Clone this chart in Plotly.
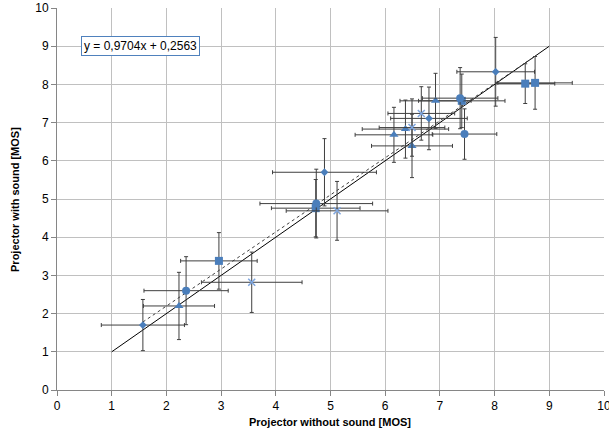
import plotly.graph_objects as go

# ---- data ----
diamond_x = [1.57, 4.89, 6.80, 8.02]
diamond_y = [1.70, 5.70, 7.11, 8.33]
diamond_ex = [0.76, 0.95, 0.70, 0.71]
diamond_ey = [0.67, 0.88, 0.82, 0.90]

square_x = [2.96, 4.73, 7.40, 8.56, 8.74]
square_y = [3.38, 4.76, 7.57, 8.02, 8.04]
square_ex = [0.70, 0.81, 0.79, 0.54, 0.68]
square_ey = [0.74, 0.75, 0.70, 0.52, 0.69]

triangle_x = [2.23, 6.92, 6.37, 6.16, 6.49]
triangle_y = [2.20, 7.57, 6.83, 6.68, 6.39]
triangle_ex = [0.65, 0.65, 0.79, 0.71, 0.74]
triangle_ey = [0.88, 0.72, 0.76, 0.72, 0.83]

circle_x = [2.36, 4.74, 7.45, 7.37]
circle_y = [2.60, 4.88, 6.70, 7.64]
circle_ex = [0.77, 1.03, 0.59, 0.69]
circle_ey = [0.89, 0.90, 0.66, 0.80]

cross_x = [3.56, 5.12, 6.66, 6.49]
cross_y = [2.82, 4.69, 7.24, 6.87]
cross_ex = [0.92, 0.93, 0.61, 0.60]
cross_ey = [0.79, 0.77, 0.70, 0.75]

ref_line_x = [1, 9]
ref_line_y = [1, 9]
trend_slope = 0.9704
trend_intercept = 0.2563
equation_text = "y = 0,9704x + 0,2563"
x_title = "Projector without sound [MOS]"
y_title = "Projector with sound [MOS]"
axis_ticks = [0, 1, 2, 3, 4, 5, 6, 7, 8, 9, 10]

BLUE = "#4A7EBB"
ERR = "#3F3F3F"
FONT = "Liberation Sans"

fig = go.Figure()

# reference line y = x
fig.add_trace(go.Scatter(x=ref_line_x, y=ref_line_y, mode="lines",
                         line=dict(color="#000000", width=1), hoverinfo="skip"))

# linear trend line (dotted) over data range
all_x = diamond_x + square_x + triangle_x + circle_x + cross_x
tx = [min(all_x), max(all_x)]
ty = [trend_slope * v + trend_intercept for v in tx]
fig.add_trace(go.Scatter(x=tx, y=ty, mode="lines",
                         line=dict(color="#404040", width=1, dash="dot"), hoverinfo="skip"))

def add_series(xs, ys, ex, ey, symbol, size, color=BLUE, line=None, errcolor=ERR):
    fig.add_trace(go.Scatter(
        x=xs, y=ys, mode="markers",
        marker=dict(symbol=symbol, size=size, color=color,
                    line=line if line else dict(width=0)),
        error_x=dict(type="data", array=ex, color=errcolor, thickness=1, width=2),
        error_y=dict(type="data", array=ey, color=errcolor, thickness=1, width=2),
    ))

add_series(diamond_x, diamond_y, diamond_ex, diamond_ey, "diamond", 6)
add_series(square_x, square_y, square_ex, square_ey, "square", 8)
add_series(triangle_x, triangle_y, triangle_ex, triangle_ey, "triangle-up", 8)
add_series(circle_x, circle_y, circle_ex, circle_ey, "circle", 8)
add_series(cross_x, cross_y, cross_ex, cross_ey, "x-thin", 7,
           color="#7EA6E0", line=dict(width=1.5, color="#7EA6E0"))

axis_common = dict(range=[0, 10], tickvals=axis_ticks, showgrid=True,
                   gridcolor="#C0C0C0", gridwidth=1, zeroline=False,
                   showline=True, linecolor="#868686", linewidth=1,
                   ticks="outside", ticklen=5, tickcolor="#868686",
                   automargin=False, ticklabeloverflow="allow",
                   tickfont=dict(family=FONT, size=12, color="#000000"))

fig.update_layout(
    width=609, height=433,
    margin=dict(l=57, r=5, t=8, b=43, autoexpand=False),
    paper_bgcolor="white", plot_bgcolor="white",
    showlegend=False,
    xaxis=axis_common,
    yaxis=axis_common,
    annotations=[
        dict(x=1.52, y=9.0, xref="x", yref="y", text=equation_text, showarrow=False,
             font=dict(family=FONT, size=12, color="#000000"),
             bgcolor="white", bordercolor="#4F81BD", borderwidth=1, borderpad=2),
        dict(x=0.499, y=-0.084, xref="paper", yref="paper", text="<b>" + x_title + "</b>",
             showarrow=False, font=dict(family=FONT, size=11, color="#000000"),
             xanchor="center", yanchor="middle"),
        dict(x=-0.0768, y=0.5, xref="paper", yref="paper", text="<b>" + y_title + "</b>",
             showarrow=False, textangle=-90, font=dict(family=FONT, size=11, color="#000000"),
             xanchor="center", yanchor="middle"),
    ],
)

fig.write_html("out.html", config={"displayModeBar": False},
               post_script="document.body.style.margin='0';document.body.style.overflow='hidden';")
